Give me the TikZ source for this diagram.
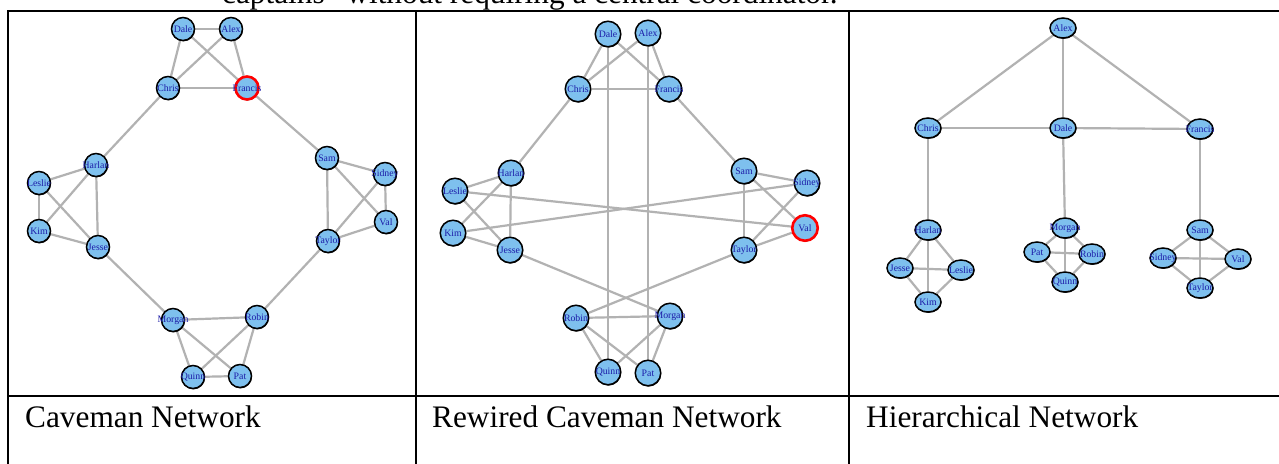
\documentclass[tikz,border=0pt]{standalone}
\usepackage{fontspec}
\setmainfont{Liberation Serif}
\usetikzlibrary{shapes.geometric,shadows}

\definecolor{nodeblue}{RGB}{126,192,238}
\definecolor{lblblue}{RGB}{28,28,168}
\definecolor{edgegray}{RGB}{178,178,178}

\pgfdeclarelayer{background}
\pgfsetlayers{background,main}

\newcommand{\capfont}{\fontsize{31.3}{36}\selectfont}
\newcommand{\lblfont}{\fontsize{9.8}{10}\selectfont}

\tikzset{
  vtx/.style={circle, draw=black, line width=1.5pt, fill=nodeblue,
    minimum size=23pt, inner sep=0pt,
    drop shadow={opacity=0.9, shadow xshift=0.5pt, shadow yshift=-0.9pt, fill=black},
    label={[font=\lblfont, text=lblblue, inner sep=0pt]center:#1}},
  vtxbig/.style={vtx=#1, minimum size=25.5pt},
  vtxell/.style={vtx=#1, ellipse, minimum width=26pt, minimum height=20pt},
  hot/.style={draw=red, line width=2.6pt},
  link/.style={draw=edgegray, line width=2.2pt},
  rule/.style={draw=black, line width=2pt},
  caption/.style={font=\capfont, anchor=base west, inner sep=0pt}
}

\begin{document}
\begin{tikzpicture}[x=1pt, y=-1pt]
\useasboundingbox (0,0) rectangle (1279,463);
\clip (0,0) rectangle (1279,463);
\begin{pgfonlayer}{background}
  \fill[white] (0,0) rectangle (1279,463);
\end{pgfonlayer}

% running text above the table
\node[caption] (runon) at (222,4) {captains” without requiring a central coordinator.};

% table rules
\draw[rule] (7.5,11) -- (1280,11);
\draw[rule] (7.5,396) -- (1280,396);
\draw[rule] (7.5,10) -- (7.5,464);
\draw[rule] (416,10) -- (416,464);
\draw[rule] (849,10) -- (849,464);

% captions
\node[caption] (capA) at (25,427) {Caveman Network};
\node[caption] (capB) at (432,427) {Rewired Caveman Network};
\node[caption] (capC) at (866,427) {Hierarchical Network};

% ---------- caveman network ----------
\node[vtx=Dale]    (a-dale)    at (183,29)  {};
\node[vtx=Alex]    (a-alex)    at (231,29)  {};
\node[vtx=Chris]   (a-chris)   at (168,88)  {};
\node[vtx=Francis, hot] (a-francis) at (247,88) {};
\node[vtx=Harlan]  (a-harlan)  at (96,165)  {};
\node[vtx=Leslie]  (a-leslie)  at (39,183)  {};
\node[vtx=Kim]     (a-kim)     at (39,231)  {};
\node[vtx=Jesse]   (a-jesse)   at (98,247)  {};
\node[vtx=Sam]     (a-sam)     at (327,158) {};
\node[vtx=Sidney]  (a-sidney)  at (385,174) {};
\node[vtx=Val]     (a-val)     at (386,222) {};
\node[vtx=Taylor]  (a-taylor)  at (328,241) {};
\node[vtx=Morgan]  (a-morgan)  at (173,320) {};
\node[vtx=Robin]   (a-robin)   at (257,317) {};
\node[vtx=Quinn]   (a-quinn)   at (193,377) {};
\node[vtx=Pat]     (a-pat)     at (240,376) {};

\begin{pgfonlayer}{background}
  \foreach \u/\v in {dale/alex, dale/chris, dale/francis, alex/chris, alex/francis, chris/francis,
      harlan/leslie, harlan/kim, harlan/jesse, leslie/kim, leslie/jesse, kim/jesse,
      sam/sidney, sam/taylor, sam/val, sidney/val, sidney/taylor, val/taylor,
      morgan/robin, morgan/quinn, morgan/pat, robin/quinn, robin/pat, quinn/pat,
      chris/harlan, francis/sam, jesse/morgan, taylor/robin}
    \draw[link] (a-\u) -- (a-\v);
\end{pgfonlayer}

% ---------- rewired caveman network ----------
\node[vtxbig=Dale]    (b-dale)    at (608,34)  {};
\node[vtxbig=Alex]    (b-alex)    at (648,33)  {};
\node[vtxbig=Chris]   (b-chris)   at (578,89)  {};
\node[vtxbig=Francis] (b-francis) at (669,89)  {};
\node[vtxbig=Harlan]  (b-harlan)  at (511,173) {};
\node[vtxbig=Leslie]  (b-leslie)  at (455,191) {};
\node[vtxbig=Kim]     (b-kim)     at (453,233) {};
\node[vtxbig=Jesse]   (b-jesse)   at (510,250) {};
\node[vtxbig=Sam]     (b-sam)     at (744,171) {};
\node[vtxbig=Sidney]  (b-sidney)  at (807,183) {};
\node[vtxbig=Val, hot] (b-val)    at (805,228) {};
\node[vtxbig=Taylor]  (b-taylor)  at (744,250) {};
\node[vtxbig=Robin]   (b-robin)   at (576,318) {};
\node[vtxbig=Morgan]  (b-morgan)  at (670,316) {};
\node[vtxbig=Quinn]   (b-quinn)   at (608,372) {};
\node[vtxbig=Pat]     (b-pat)     at (648,373) {};

\begin{pgfonlayer}{background}
  \foreach \u/\v in {dale/chris, dale/francis, alex/chris, alex/francis, chris/francis,
      dale/quinn, alex/pat,
      harlan/leslie, harlan/kim, harlan/jesse, leslie/jesse, kim/jesse,
      leslie/val, kim/sidney,
      sam/sidney, sam/taylor, sam/val, sidney/taylor, val/taylor,
      morgan/robin, morgan/quinn, morgan/pat, robin/quinn, robin/pat,
      chris/harlan, francis/sam, jesse/morgan, taylor/robin}
    \draw[link] (b-\u) -- (b-\v);
\end{pgfonlayer}

% ---------- hierarchical network ----------
\node[vtxell=Alex]    (c-alex)    at (1063,28)  {};
\node[vtxell=Chris]   (c-chris)   at (928,128)  {};
\node[vtxell=Dale]    (c-dale)    at (1063,128) {};
\node[vtxell=Francis] (c-francis) at (1200,129) {};
\node[vtxell=Harlan]  (c-harlan)  at (928,230)  {};
\node[vtxell=Jesse]   (c-jesse)   at (900,268)  {};
\node[vtxell=Leslie]  (c-leslie)  at (961,270)  {};
\node[vtxell=Kim]     (c-kim)     at (928,302)  {};
\node[vtxell=Morgan]  (c-morgan)  at (1065,228) {};
\node[vtxell=Pat]     (c-pat)     at (1037,252) {};
\node[vtxell=Robin]   (c-robin)   at (1092,254) {};
\node[vtxell=Quinn]   (c-quinn)   at (1065,282) {};
\node[vtxell=Sam]     (c-sam)     at (1200,230) {};
\node[vtxell=Sidney]  (c-sidney)  at (1163,258) {};
\node[vtxell=Val]     (c-val)     at (1238,259) {};
\node[vtxell=Taylor]  (c-taylor)  at (1200,288) {};

\begin{pgfonlayer}{background}
  \foreach \u/\v in {alex/chris, alex/dale, alex/francis, chris/dale, dale/francis,
      chris/harlan, dale/morgan, francis/sam,
      harlan/jesse, harlan/leslie, harlan/kim, jesse/leslie, jesse/kim, leslie/kim,
      morgan/pat, morgan/robin, morgan/quinn, pat/robin, pat/quinn, robin/quinn,
      sam/sidney, sam/val, sam/taylor, sidney/val, sidney/taylor, val/taylor}
    \draw[link] (c-\u) -- (c-\v);
\end{pgfonlayer}
\end{tikzpicture}
\end{document}
